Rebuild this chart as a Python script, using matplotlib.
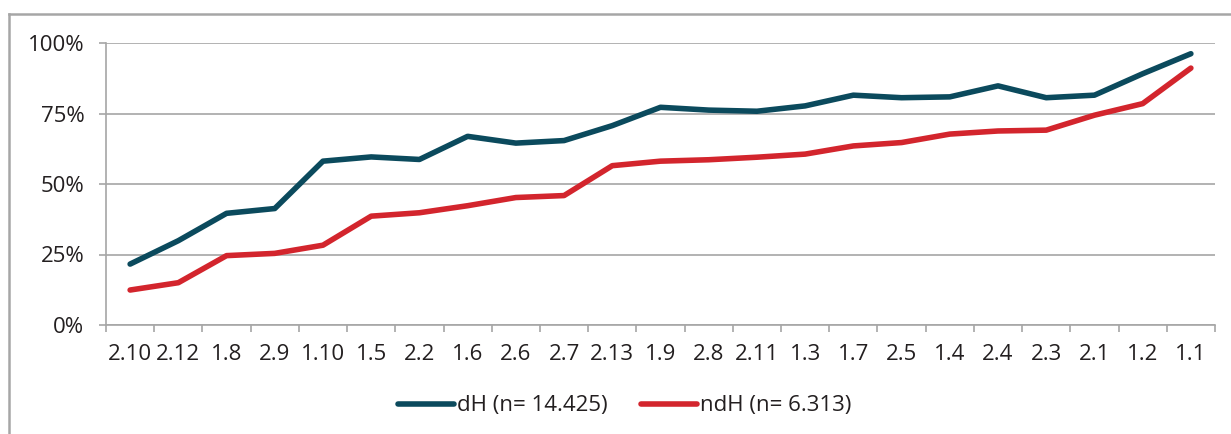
import matplotlib
matplotlib.use("Agg")
import matplotlib.pyplot as plt
from matplotlib.lines import Line2D
from matplotlib.ticker import FuncFormatter

categories = ["2.10", "2.12", "1.8", "2.9", "1.10", "1.5", "2.2", "1.6", "2.6", "2.7",
              "2.13", "1.9", "2.8", "2.11", "1.3", "1.7", "2.5", "1.4", "2.4", "2.3",
              "2.1", "1.2", "1.1"]
dH = [21.6, 29.9, 39.6, 41.3, 58.1, 59.6, 58.7, 66.9, 64.5, 65.4,
      70.7, 77.2, 76.2, 75.8, 77.7, 81.5, 80.6, 80.9, 84.8, 80.6,
      81.5, 89.1, 96.2]
ndH = [12.4, 15.0, 24.6, 25.4, 28.3, 38.6, 39.8, 42.3, 45.2, 45.9,
       56.5, 58.1, 58.6, 59.5, 60.6, 63.5, 64.7, 67.7, 68.8, 69.1,
       74.4, 78.5, 91.1]
labels = ["dH (n= 14.425)", "ndH (n= 6.313)"]
yticks = [0, 25, 50, 75, 100]

c_dh = "#0b4a5d"
c_ndh = "#d3252d"
grid_c = "#a6a6a6"
txt_c = "#231f20"

plt.rcParams['font.family'] = ['Open Sans', 'DejaVu Sans']

fig = plt.figure(figsize=(12.31, 4.34), dpi=100)
W, H = 1231, 434
ax = fig.add_axes([106 / W, 1 - 325 / H, (1215 - 106) / W, (325 - 43) / H])

x = list(range(len(categories)))
ax.plot(x, dH, color=c_dh, lw=4, solid_capstyle='round', solid_joinstyle='round', zorder=3)
ax.plot(x, ndH, color=c_ndh, lw=4, solid_capstyle='round', solid_joinstyle='round', zorder=3)

ax.set_xlim(-0.5, len(categories) - 0.5)
ax.set_ylim(0, 100)
ax.set_yticks(yticks)
ax.yaxis.set_major_formatter(FuncFormatter(lambda v, p: f"{int(v)}%"))
ax.set_xticks(x)
ax.set_xticklabels(categories)
ax.set_xticks([i - 0.5 for i in range(len(categories) + 1)], minor=True)
ax.tick_params(axis='x', which='major', length=0, labelsize=16, pad=13.5, colors=txt_c)
ax.tick_params(axis='x', which='minor', length=5, width=1.2, color=grid_c)
ax.tick_params(axis='y', length=5, width=1.2, color=grid_c, labelsize=16, pad=10.5, labelcolor=txt_c)

ax.grid(axis='y', color=grid_c, lw=1.2, zorder=0)
for s in ['top', 'right']:
    ax.spines[s].set_visible(False)
for s in ['left', 'bottom']:
    ax.spines[s].set_color(grid_c)
    ax.spines[s].set_linewidth(1.2)
ax.set_axisbelow(True)

handles = [Line2D([], [], color=c_dh, lw=4, solid_capstyle='round'),
           Line2D([], [], color=c_ndh, lw=4, solid_capstyle='round')]
leg = fig.legend(handles, labels, loc='center', bbox_to_anchor=(625 / W, 1 - 406 / H),
                 ncol=2, frameon=False, fontsize=16, handlelength=2.5, handletextpad=0.15,
                 columnspacing=1.5)
for t in leg.get_texts():
    t.set_color(txt_c)

# outer chart frame (partially visible)
fig.add_artist(Line2D([9 / W, 9 / W], [0, 1 - 14 / H], color=grid_c, lw=1.8, transform=fig.transFigure))
fig.add_artist(Line2D([9 / W, 1], [1 - 14 / H, 1 - 14 / H], color=grid_c, lw=1.8, transform=fig.transFigure))

fig.savefig("out.png", dpi=100, facecolor='white')
